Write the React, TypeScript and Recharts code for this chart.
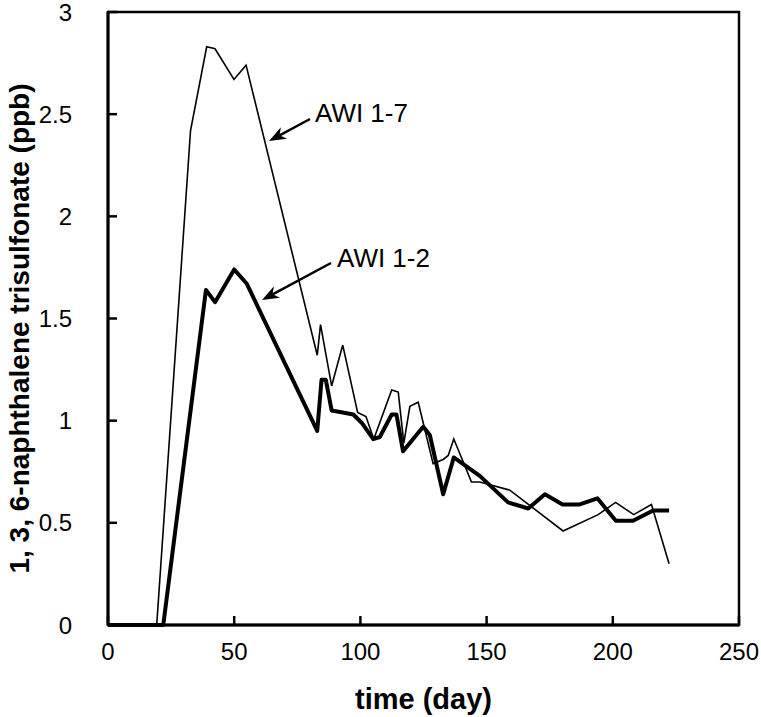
import { LineChart, Line, XAxis, YAxis, ReferenceArea } from "recharts";

// AWI 1-7 (thin line)
const awi17Days = [0, 19.3, 32.7, 39.1, 42.4, 49.9, 54.7, 82.9, 84.2, 88.6, 93.0, 98.9, 102.2, 105.3, 112.4, 115.0, 117.2, 119.6, 122.9, 128.8, 132.8, 134.8, 137.0, 144.0, 147.3, 159.2, 180.3, 194.2, 201.1, 208.3, 215.3, 222.3];
const awi17Values = [0, 0, 2.42, 2.83, 2.82, 2.67, 2.74, 1.32, 1.47, 1.17, 1.37, 1.04, 1.02, 0.91, 1.15, 1.14, 0.89, 1.07, 1.09, 0.79, 0.81, 0.83, 0.91, 0.70, 0.70, 0.66, 0.46, 0.54, 0.60, 0.54, 0.59, 0.30];

// AWI 1-2 (thick line)
const awi12Days = [0, 21.9, 38.8, 42.4, 50.0, 55.0, 82.9, 84.6, 86.3, 88.6, 93.0, 97.2, 100.5, 105.1, 107.7, 112.4, 114.3, 116.9, 124.9, 127.5, 132.8, 137.0, 147.3, 158.5, 166.5, 173.1, 180.1, 186.9, 193.9, 201.2, 208.0, 216.0, 222.3];
const awi12Values = [0, 0, 1.64, 1.58, 1.74, 1.67, 0.95, 1.20, 1.20, 1.05, 1.04, 1.03, 0.99, 0.91, 0.92, 1.03, 1.03, 0.85, 0.97, 0.93, 0.64, 0.82, 0.73, 0.60, 0.57, 0.64, 0.59, 0.59, 0.62, 0.51, 0.51, 0.56, 0.56];

const xTicks = [0, 50, 100, 150, 200, 250];
const yTicks = [0, 0.5, 1, 1.5, 2, 2.5, 3];

const awi17 = awi17Days.map((day, i) => ({ day, v: awi17Values[i] }));
const awi12 = awi12Days.map((day, i) => ({ day, v: awi12Values[i] }));

const FONT = '"Liberation Sans", Arial, Helvetica, sans-serif';
const Y_MARGIN = 36;
const X_MARGIN = 17;
const TICK_LEN = 9;

// eslint-disable-next-line @typescript-eslint/no-explicit-any
function YTick({ x, y, payload }: any) {
  const ax = x + Y_MARGIN;
  return (
    <g>
      <line x1={ax} x2={ax + TICK_LEN} y1={y} y2={y} stroke="#000" strokeWidth={2.5} />
      <text x={x} y={y} dy="0.36em" textAnchor="end" fontSize={24} fontFamily={FONT} fill="#000">
        {payload.value}
      </text>
    </g>
  );
}

// eslint-disable-next-line @typescript-eslint/no-explicit-any
function XTick({ x, y, payload }: any) {
  const ay = y - X_MARGIN;
  return (
    <g>
      <line x1={x} x2={x} y1={ay} y2={ay - TICK_LEN} stroke="#000" strokeWidth={2.5} />
      <text x={x} y={y} dy="0.74em" textAnchor="middle" fontSize={24} fontFamily={FONT} fill="#000">
        {payload.value}
      </text>
    </g>
  );
}

function arrowHead(sx: number, sy: number, tx: number, ty: number) {
  const len = Math.hypot(tx - sx, ty - sy);
  const ux = (tx - sx) / len;
  const uy = (ty - sy) / len;
  const l = 17;
  const w = 6.5;
  const bx = tx - ux * l;
  const by = ty - uy * l;
  return `${tx},${ty} ${bx - uy * w},${by + ux * w} ${tx - ux * (l - 5)},${ty - uy * (l - 5)} ${bx + uy * w},${by - ux * w}`;
}

function Annotations() {
  const notes = [
    { text: "AWI 1-7", tx: 315, ty: 122, sx: 310, sy: 119, ex: 269, ey: 141 },
    { text: "AWI 1-2", tx: 337, ty: 267, sx: 331, sy: 263, ex: 262, ey: 300 },
  ];
  return (
    <svg width={761} height={717} style={{ position: "absolute", left: 0, top: 0, pointerEvents: "none" }}>
      {notes.map((n) => {
        const len = Math.hypot(n.ex - n.sx, n.ey - n.sy);
        const lx = n.ex - ((n.ex - n.sx) / len) * 12;
        const ly = n.ey - ((n.ey - n.sy) / len) * 12;
        return (
          <g key={n.text}>
            <line x1={n.sx} y1={n.sy} x2={lx} y2={ly} stroke="#000" strokeWidth={2.5} />
            <polygon points={arrowHead(n.sx, n.sy, n.ex, n.ey)} fill="#000" />
            <text x={n.tx} y={n.ty} fontSize={26} fontFamily={FONT} fill="#000">
              {n.text}
            </text>
          </g>
        );
      })}
    </svg>
  );
}

export default function App() {
  return (
    <div style={{ position: "relative", width: 761, height: 717, background: "#fff" }}>
      <style>{`body{margin:0;background:#fff}`}</style>
      <LineChart width={761} height={717} margin={{ top: 12, right: 22, bottom: 0, left: 0 }}>
        <XAxis
          dataKey="day"
          type="number"
          domain={[0, 250]}
          ticks={xTicks}
          height={92}
          tickSize={0}
          tickMargin={X_MARGIN}
          tick={<XTick />}
          axisLine={{ stroke: "#000", strokeWidth: 3 }}
          allowDataOverflow
          label={{
            value: "time (day)",
            position: "insideBottom",
            offset: 8,
            style: { fontSize: 29, fontWeight: 700, fontFamily: FONT, fill: "#000" },
          }}
        />
        <YAxis
          type="number"
          domain={[0, 3]}
          ticks={yTicks}
          width={108}
          tickSize={0}
          tickMargin={Y_MARGIN}
          tick={<YTick />}
          axisLine={{ stroke: "#000", strokeWidth: 3 }}
          // eslint-disable-next-line @typescript-eslint/no-explicit-any
          label={(props: any) => {
            const vb = props.viewBox;
            const cx = vb.x + 29;
            const cy = vb.y + vb.height / 2 + 10;
            return (
              <text
                x={cx}
                y={cy}
                transform={`rotate(-90, ${cx}, ${cy})`}
                textAnchor="middle"
                fontSize={28}
                fontWeight={700}
                fontFamily={FONT}
                fill="#000"
              >
                1, 3, 6-naphthalene trisulfonate (ppb)
              </text>
            );
          }}
        />
        <ReferenceArea x1={0} x2={250} y1={0} y2={3} fill="none" stroke="#000" strokeWidth={2.5} />
        <Line
          data={awi17}
          dataKey="v"
          type="linear"
          stroke="#000"
          strokeWidth={1.6}
          dot={false}
          isAnimationActive={false}
        />
        <Line
          data={awi12}
          dataKey="v"
          type="linear"
          stroke="#000"
          strokeWidth={4}
          strokeLinejoin="round"
          dot={false}
          isAnimationActive={false}
        />
      </LineChart>
      <Annotations />
    </div>
  );
}
